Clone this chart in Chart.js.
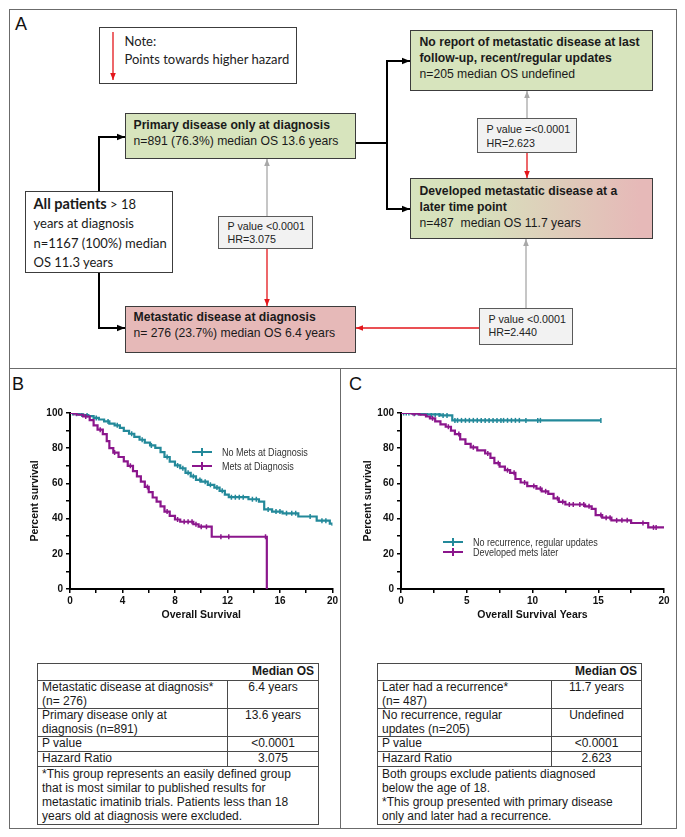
<!DOCTYPE html>
<html>
<head>
<meta charset="utf-8">
<script src="https://cdn.jsdelivr.net/npm/chart.js@4.4.1/dist/chart.umd.min.js"></script>
<style>
body{margin:0;width:685px;height:837px;background:#fff;position:relative;overflow:hidden;font-family:"Liberation Sans",Arial,sans-serif;color:#111}
.frame{position:absolute;box-sizing:border-box;border:1.5px solid #6b6b6b}
.box{position:absolute;box-sizing:border-box;border:1.5px solid #3c3c3c;background:#fff}
.green{background:#d7e4bd}
.pink{background:#e6b9b8}
.grad{background:linear-gradient(to right,#d7e4bd 0%,#d8dfbc 30%,#e6b9b8 95%)}
.pbox{background:#f2f2f2;border-color:#5a5a5a}
.txt{position:absolute;white-space:nowrap}
.nar{font-family:"Liberation Sans Narrow","Arial Narrow","Liberation Sans",sans-serif}
.cal{font-family:Lato,"Open Sans",sans-serif}
.big{font-size:12.2px;line-height:16px;color:#1a1a1a}
.small{font-size:10.7px;line-height:12.5px;color:#222}
.lbl{position:absolute;font-size:18px;line-height:18px}
.leg{position:absolute;font-size:11px;line-height:12px;color:#333;white-space:nowrap}
.sw{position:absolute;height:2px;width:20px}
.sw i{position:absolute;left:9px;top:-3px;width:1.5px;height:8px;background:inherit}
.tbl{position:absolute;border-collapse:collapse;table-layout:fixed;font-size:12px;line-height:13.5px;color:#1a1a1a}
.tbl td{border:1.5px solid #4a4a4a;padding:0 4px;vertical-align:top;white-space:nowrap}
.tbl .hd{text-align:right;font-weight:bold;line-height:15px}
.tbl .v{text-align:center}
.tbl .fn{line-height:14px}
canvas{position:absolute}
</style>
</head>
<body>

<!-- frames -->
<div class="frame" style="left:9px;top:9px;width:668px;height:820px"></div>
<div class="frame" style="left:9px;top:367.5px;width:668px;height:1.5px;border-width:1.5px 0 0 0"></div>
<div class="frame" style="left:339.5px;top:368px;width:1.5px;height:461px;border-width:0 0 0 1.5px"></div>

<div class="lbl" style="left:15px;top:14.5px">A</div>
<div class="lbl" style="left:12px;top:374.5px">B</div>
<div class="lbl" style="left:349px;top:374.5px">C</div>

<!-- connectors of panel A -->
<svg width="685" height="400" style="position:absolute;left:0;top:0">
  <defs>
    <marker id="mb" viewBox="0 0 10 10" refX="10" refY="5" markerWidth="8" markerHeight="8" markerUnits="userSpaceOnUse" orient="auto"><path d="M0,1 L10,5 L0,9 z" fill="#000"/></marker>
    <marker id="mg" viewBox="0 0 10 10" refX="10" refY="5" markerWidth="7" markerHeight="7" markerUnits="userSpaceOnUse" orient="auto"><path d="M0,1 L10,5 L0,9 z" fill="#a8a8a8"/></marker>
    <marker id="mr" viewBox="0 0 10 10" refX="10" refY="5" markerWidth="7" markerHeight="7" markerUnits="userSpaceOnUse" orient="auto"><path d="M0,1 L10,5 L0,9 z" fill="#e3161b"/></marker>
  </defs>
  <g fill="none" stroke="#000" stroke-width="2">
    <path d="M99,191 V137 H125" marker-end="url(#mb)"/>
    <path d="M99,273 V328 H125" marker-end="url(#mb)"/>
    <path d="M356,143 H387"/>
    <path d="M387,61 V209"/>
    <path d="M386,61 H410" marker-end="url(#mb)"/>
    <path d="M386,209 H410" marker-end="url(#mb)"/>
  </g>
  <g fill="none" stroke="#a8a8a8" stroke-width="1.3">
    <path d="M267,216 V159" marker-end="url(#mg)"/>
    <path d="M527,118 V91" marker-end="url(#mg)"/>
    <path d="M526,308 V239" marker-end="url(#mg)"/>
  </g>
  <g fill="none" stroke="#e3161b" stroke-width="1.3">
    <path d="M267,249 V306" marker-end="url(#mr)"/>
    <path d="M527,153 V178" marker-end="url(#mr)"/>
    <path d="M479,328 H356" marker-end="url(#mr)"/>
    <path d="M113,32 V80" marker-end="url(#mr)"/>
  </g>
</svg>

<!-- boxes of panel A -->
<div class="box" style="left:99px;top:27px;width:198px;height:57px;background:transparent">
  <div class="txt cal" style="left:24.5px;top:3.5px;font-size:13px;line-height:18px;color:#222">Note:<br>Points towards higher hazard</div>
</div>
<div class="box green" style="left:410px;top:30px;width:243px;height:61px">
  <div class="txt big" style="left:8.5px;top:3px;line-height:16px"><b>No report of metastatic disease at last</b><br><b>follow-up, recent/regular updates</b><br>n=205 median OS undefined</div>
</div>
<div class="box green" style="left:125px;top:113px;width:231px;height:46px">
  <div class="txt big" style="left:7.5px;top:2.5px"><b>Primary disease only at diagnosis</b><br>n=891 (76.3%) median OS 13.6 years</div>
</div>
<div class="box pbox" style="left:477px;top:118px;width:100px;height:35px">
  <div class="txt small" style="left:8.5px;top:2.5px;line-height:14px">P value =&lt;0.0001<br>HR=2.623</div>
</div>
<div class="box grad" style="left:410px;top:178px;width:243px;height:61px">
  <div class="txt big" style="left:8.5px;top:3.5px"><b>Developed metastatic disease at a</b><br><b>later time point</b><br>n=487&nbsp; median OS 11.7 years</div>
</div>
<div class="box" style="left:25px;top:191px;width:148px;height:82px">
  <div class="txt cal" style="left:7.5px;top:2px;font-size:13px;line-height:19.3px;color:#1a1a1a"><b style="font-size:14.5px">All patients</b> &gt; 18<br>years at diagnosis<br>n=1167 (100%) median<br>OS 11.3 years</div>
</div>
<div class="box pbox" style="left:218px;top:216px;width:95px;height:33px">
  <div class="txt small" style="left:8.5px;top:3.25px">P value &lt;0.0001<br>HR=3.075</div>
</div>
<div class="box pink" style="left:125px;top:306px;width:231px;height:47px">
  <div class="txt big" style="left:7.5px;top:1.5px"><b>Metastatic disease at diagnosis</b><br>n= 276 (23.7%) median OS 6.4 years</div>
</div>
<div class="box pbox" style="left:479px;top:308px;width:94px;height:37px">
  <div class="txt small" style="left:8.5px;top:4.25px">P value &lt;0.0001<br>HR=2.440</div>
</div>

<!-- survival charts -->
<canvas id="chartB" width="325" height="230" style="left:15px;top:395px"></canvas>
<canvas id="chartC" width="330" height="230" style="left:345px;top:395px"></canvas>

<!-- legends -->
<div class="sw" style="left:192px;top:451px;background:#23899a"><i></i></div>
<div class="leg nar" style="left:222px;top:446px">No Mets at Diagnosis</div>
<div class="sw" style="left:192px;top:465px;background:#8b168c"><i></i></div>
<div class="leg nar" style="left:222px;top:460px">Mets at Diagnosis</div>

<div class="sw" style="left:443px;top:541px;background:#23899a"><i></i></div>
<div class="leg nar" style="left:473px;top:536px">No recurrence, regular updates</div>
<div class="sw" style="left:443px;top:551px;background:#8b168c"><i></i></div>
<div class="leg nar" style="left:473px;top:546px">Developed mets later</div>

<!-- tables -->
<table class="tbl" style="left:37px;top:663px;width:281px">
  <colgroup><col style="width:190px"><col style="width:91px"></colgroup>
  <tr style="height:17px"><td colspan="2" class="hd">Median OS</td></tr>
  <tr style="height:27px"><td>Metastatic disease at diagnosis*<br>(n= 276)</td><td class="v">6.4 years</td></tr>
  <tr style="height:27px"><td>Primary disease only at<br>diagnosis (n=891)</td><td class="v">13.6 years</td></tr>
  <tr style="height:15px"><td>P value</td><td class="v">&lt;0.0001</td></tr>
  <tr style="height:15px"><td>Hazard Ratio</td><td class="v">3.075</td></tr>
  <tr style="height:58px"><td colspan="2" class="fn">*This group represents an easily defined group<br>that is most similar to published results for<br>metastatic imatinib trials. Patients less than 18<br>years old at diagnosis were excluded.</td></tr>
</table>
<table class="tbl" style="left:377px;top:663px;width:264px">
  <colgroup><col style="width:174px"><col style="width:90px"></colgroup>
  <tr style="height:17px"><td colspan="2" class="hd">Median OS</td></tr>
  <tr style="height:27px"><td>Later had a recurrence*<br>(n= 487)</td><td class="v">11.7 years</td></tr>
  <tr style="height:27px"><td>No recurrence, regular<br>updates (n=205)</td><td class="v">Undefined</td></tr>
  <tr style="height:15px"><td>P value</td><td class="v">&lt;0.0001</td></tr>
  <tr style="height:15px"><td>Hazard Ratio</td><td class="v">2.623</td></tr>
  <tr style="height:58px"><td colspan="2" class="fn">Both groups exclude patients diagnosed<br>below the age of 18.<br>*This group presented with primary disease<br>only and later had a recurrence.</td></tr>
</table>

<script>
// Panel B - Kaplan-Meier, no mets vs mets at diagnosis (years, % surviving)
const noMetsT = [0, 0.3, 0.7, 1.0, 1.4, 1.8, 2.2, 2.6, 3.0, 3.4, 3.8, 4.1, 4.5, 4.9, 5.3, 5.7, 6.1, 6.5, 6.9, 7.2, 7.6, 8.0, 8.4, 8.8, 9.2, 9.6, 10.0, 10.5, 11.0, 11.4, 11.8, 12.1, 13.6, 14.4, 14.8, 15.4, 16.2, 17.4, 18.8, 19.8, 20];
const noMetsS = [100, 99.6, 99.2, 98.8, 98.2, 97.2, 96.3, 95.2, 94.0, 93.0, 91.6, 89.8, 88.2, 86.4, 84.8, 83.2, 81.6, 80.2, 77.8, 75.0, 72.4, 70.2, 68.6, 66.0, 64.0, 62.0, 61.0, 59.2, 57.6, 55.8, 53.6, 52.2, 51.0, 49.6, 45.2, 44.0, 43.0, 41.2, 38.8, 37.2, 36.0];
const noMetsCens = [0.2, 0.5, 0.9, 1.3, 2.0, 2.9, 3.6, 4.7, 5.5, 6.2, 7.4, 8.2, 8.6, 9.0, 9.4, 9.9, 10.3, 10.7, 11.2, 11.6, 12.3, 12.6, 12.9, 13.2, 13.9, 14.2, 15.1, 15.7, 16.0, 16.5, 16.9, 17.2, 18.3, 19.2, 19.5];

const metsT = [0, 0.5, 1.0, 1.5, 1.8, 2.1, 2.5, 2.8, 3.0, 3.3, 3.7, 4.1, 4.4, 4.8, 5.1, 5.4, 5.7, 6.0, 6.3, 6.6, 6.9, 7.2, 7.6, 8.0, 8.4, 9.4, 9.8, 10.8, 15.0];
const metsS = [100, 99, 98, 96, 93, 90.5, 88, 84, 80, 77.5, 75, 72.5, 70, 67, 64, 61, 58, 55, 52, 49.6, 47, 44, 41.5, 39.5, 38.2, 36.8, 35.4, 29.7, 0];
const metsCens = [0.3, 1.2, 2.3, 3.4, 4.6, 5.9, 7.4, 8.2, 8.7, 9.0, 9.3, 9.6, 10.0, 10.4, 11.5, 12.1, 14.9];

// Panel C - no recurrence vs developed mets later
const noRecT = [0, 1.8, 3.0, 3.9, 15.2];
const noRecS = [100, 99.2, 98.6, 95.8, 95.8];
const noRecCens = [0.2, 0.4, 0.6, 0.9, 1.1, 1.3, 1.5, 2.0, 2.3, 2.6, 2.9, 3.2, 3.5, 4.1, 4.3, 4.6, 4.9, 5.2, 5.5, 5.8, 6.1, 6.4, 6.7, 7.0, 7.3, 7.6, 7.8, 8.1, 8.4, 8.7, 9.0, 9.5, 10.4, 10.6, 15.2];

const laterT = [0, 0.8, 1.4, 1.9, 2.2, 2.6, 3.0, 3.4, 3.8, 4.1, 4.5, 4.9, 5.3, 5.8, 6.4, 6.8, 7.1, 7.5, 7.9, 8.3, 8.7, 9.1, 9.6, 10.3, 10.7, 11.2, 11.6, 12.0, 12.5, 14.0, 14.5, 14.8, 15.3, 16.0, 17.5, 18.8, 20];
const laterS = [100, 99.6, 99, 98, 97, 95.2, 93.5, 92.2, 90, 88, 85, 82.5, 80.5, 78.8, 77, 74.5, 71.5, 69.5, 67.5, 66, 62.5, 60.5, 58.5, 57, 55.5, 54, 51.5, 49.5, 48, 47, 45.5, 42, 40.5, 39, 37.5, 35, 35];
const laterCens = [1.0, 2.4, 3.6, 4.4, 5.5, 6.6, 7.4, 8.1, 8.6, 9.4, 10.1, 10.6, 11.0, 11.9, 12.3, 12.8, 13.1, 13.6, 13.9, 14.3, 15.2, 15.6, 15.9, 16.4, 16.8, 17.2, 18.4, 19.2, 19.4];

const yTickLabels = [0, 20, 40, 60, 80, 100];
const xLabelsB = [0, 4, 8, 12, 16, 20];
const xLabelsC = [0, 5, 10, 15, 20];

const TEAL = '#23899a';
const PURPLE = '#8b168c';

// fall back to squeezed Liberation Sans when no narrow face is installed
(function () {
    const c = document.createElement('canvas').getContext('2d');
    c.font = '13px "Liberation Sans Narrow", monospace';
    const w1 = c.measureText('No Mets at Diagnosis').width;
    c.font = '13px monospace';
    const w2 = c.measureText('No Mets at Diagnosis').width;
    if (Math.abs(w1 - w2) < 0.5) {
        document.querySelectorAll('.nar').forEach(el => {
            el.style.fontFamily = '"Liberation Sans", Arial, sans-serif';
            el.style.transform = 'scaleX(0.82)';
            el.style.transformOrigin = '0 0';
        });
    }
})();

function pts(ts, ss) {
    return ts.map((t, i) => ({x: t, y: ss[i]}));
}

// survival value of a step curve at time t (used to sit censor ticks on the curve)
function survAt(ts, ss, t) {
    let v = ss[0];
    for (let i = 0; i < ts.length; i++) {
        if (ts[i] <= t) v = ss[i];
    }
    return v;
}

function curve(ts, ss, color) {
    return {
        data: pts(ts, ss),
        borderColor: color,
        borderWidth: 2.2,
        pointRadius: 0,
        stepped: 'before',
        fill: false
    };
}

function censors(times, ts, ss, color) {
    return {
        data: times.map(t => ({x: t, y: survAt(ts, ss, t)})),
        showLine: false,
        pointStyle: 'line',
        rotation: 90,
        pointRadius: 2.5,
        pointBorderWidth: 1.5,
        pointBorderColor: color,
        pointBackgroundColor: color
    };
}

function kmOptions(xStep, xLabels, xTitle, yWidth, padRight, yTitlePad) {
    const tickFont = {family: '"Liberation Sans", Arial, sans-serif', size: 10, weight: 'bold'};
    const titleFont = {family: '"Liberation Sans", Arial, sans-serif', size: 10.5, weight: 'bold', lineHeight: 1};
    return {
        responsive: false,
        animation: false,
        layout: {padding: {top: 18, right: padRight, left: 0, bottom: 0}},
        plugins: {legend: {display: false}, tooltip: {enabled: false}},
        scales: {
            x: {
                type: 'linear',
                min: 0,
                max: 20,
                afterBuildTicks: s => {
                    const t = [];
                    for (let v = 0; v <= 20 + 1e-9; v += xStep) t.push({value: v});
                    s.ticks = t;
                },
                ticks: {
                    autoSkip: false,
                    maxRotation: 0,
                    padding: 2,
                    color: '#111',
                    font: tickFont,
                    callback: v => xLabels.includes(v) ? v : ''
                },
                grid: {drawOnChartArea: false, color: '#000', lineWidth: 1.5, tickLength: 4},
                border: {color: '#000', width: 2},
                title: {display: true, text: xTitle, color: '#111', font: titleFont, padding: {top: 0, bottom: 5}},
                afterFit: s => { s.height = 36; }
            },
            y: {
                min: 0,
                max: 100,
                afterBuildTicks: s => {
                    const t = [];
                    for (let v = 0; v <= 100; v += 10) t.push({value: v});
                    s.ticks = t;
                },
                ticks: {
                    autoSkip: false,
                    padding: 3,
                    color: '#111',
                    font: tickFont,
                    callback: v => yTickLabels.includes(v) ? v : ''
                },
                grid: {drawOnChartArea: false, color: '#000', lineWidth: 1.5, tickLength: 4},
                border: {color: '#000', width: 2},
                title: {display: true, text: 'Percent survival', color: '#111', font: titleFont, padding: {top: yTitlePad, bottom: 0}},
                afterFit: s => { s.width = yWidth; }
            }
        }
    };
}

// Panel B chart
new Chart(document.getElementById('chartB').getContext('2d'), {
    type: 'line',
    data: {
        datasets: [
            curve(metsT, metsS, PURPLE),
            censors(metsCens, metsT, metsS, PURPLE),
            curve(noMetsT, noMetsS, TEAL),
            censors(noMetsCens, noMetsT, noMetsS, TEAL)
        ]
    },
    options: kmOptions(2, xLabelsB, 'Overall Survival', 55, 7, 15)
});

// Panel C chart
new Chart(document.getElementById('chartC').getContext('2d'), {
    type: 'line',
    data: {
        datasets: [
            curve(laterT, laterS, PURPLE),
            censors(laterCens, laterT, laterS, PURPLE),
            curve(noRecT, noRecS, TEAL),
            censors(noRecCens, noRecT, noRecS, TEAL)
        ]
    },
    options: kmOptions(2.5, xLabelsC, 'Overall Survival Years', 56, 11, 18)
});
</script>
</body>
</html>
